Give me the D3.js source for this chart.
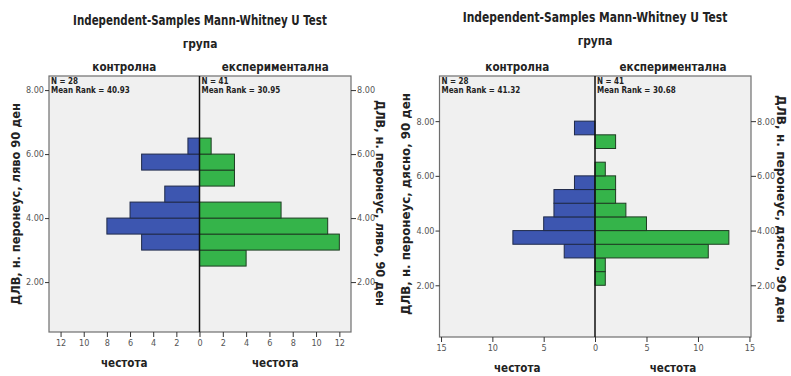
<!DOCTYPE html>
<html lang="bg">
<head>
<meta charset="UTF-8">
<title>Mann-Whitney U Test</title>
<script src="https://d3js.org/d3.v7.min.js"></script>
<style>
    body { margin: 0; background: #fff; }
    text { font-family: "DejaVu Sans", "Open Sans", sans-serif; }
    .title { font-size: 13.5px; font-weight: bold; fill: #222; }
    .grp { font-size: 13px; font-weight: bold; fill: #222; }
    .info { font-size: 9px; font-weight: bold; fill: #222; }
    .tick { font-size: 9px; fill: #555; }
    .axlab { font-size: 13px; font-weight: bold; fill: #222; }
    .ylab { font-size: 12.5px; font-weight: bold; fill: #222; }
</style>
</head>
<body>
<svg id="main" width="791" height="376"></svg>
<script>
    let svg = d3.select('svg#main');

    let groupNames = ['контролна', 'експериментална'];
    let chartTitle = 'Independent-Samples Mann-Whitney U Test';
    let groupVar = 'група';
    let freqLabel = 'честота';
    let yTicks = [2, 4, 6, 8];

    // ляво, 90 ден
    let binsLeft = [2.5, 3.0, 3.5, 4.0, 4.5, 5.0, 5.5, 6.0];
    let controlLeft = [0, 5, 8, 6, 3, 0, 5, 1];
    let experLeft = [4, 12, 11, 7, 0, 3, 3, 1];
    let nLeft = [28, 41];
    let rankLeft = ['40.93', '30.95'];
    let xTicksLeft = [0, 2, 4, 6, 8, 10, 12];

    // дясно, 90 ден
    let binsRight = [2.0, 2.5, 3.0, 3.5, 4.0, 4.5, 5.0, 5.5, 6.0, 6.5, 7.0, 7.5];
    let controlRight = [0, 0, 3, 8, 5, 4, 4, 2, 0, 0, 0, 2];
    let experRight = [1, 1, 11, 13, 5, 3, 2, 2, 1, 0, 2, 0];
    let nRight = [28, 41];
    let rankRight = ['41.32', '30.68'];
    let xTicksRight = [0, 5, 10, 15];

    let binWidth = 0.5;
    let blue = '#3d56b0', green = '#35b44a';

    // no condensed font installed, so squeeze the text a bit
    function condense(sel, f) {
        sel.each(function () {
            let w = this.getComputedTextLength();
            d3.select(this).attr('textLength', w * f).attr('lengthAdjust', 'spacingAndGlyphs');
        });
    }
    function fitTo(sel, w) {
        sel.attr('textLength', w).attr('lengthAdjust', 'spacingAndGlyphs');
    }

    function drawPanel(p) {
        let g = svg.append('g');
        let y = d3.scaleLinear().domain(p.yDomain).range([p.bottom, p.top]);
        let xc = d3.scaleLinear().domain([0, p.xMax]).range([p.cx, p.left]);
        let xe = d3.scaleLinear().domain([0, p.xMax]).range([p.cx, p.right]);

        let t = g.append('text').attr('class', 'title').attr('text-anchor', 'middle').text(chartTitle);
        let sx = p.titleW / t.node().getComputedTextLength();
        t.attr('transform', `translate(${p.titleX},${p.titleY}) scale(${sx},1)`);
        g.append('text').attr('class', 'grp').attr('x', p.titleX).attr('y', p.titleY + 23)
            .attr('text-anchor', 'middle').text(groupVar).call(condense, 0.82);
        g.append('text').attr('class', 'grp').attr('x', (p.left + p.cx) / 2).attr('y', p.top - 5)
            .attr('text-anchor', 'middle').text(groupNames[0]).call(condense, 0.8);
        g.append('text').attr('class', 'grp').attr('x', (p.cx + p.right) / 2).attr('y', p.top - 5)
            .attr('text-anchor', 'middle').text(groupNames[1]).call(condense, 0.8);

        g.append('rect').attr('x', p.left).attr('y', p.top)
            .attr('width', p.right - p.left).attr('height', p.bottom - p.top)
            .attr('fill', '#f0f0f0').attr('stroke', '#6e6e6e').attr('stroke-width', 1.2);

        let rows = p.bins.map((b, i) => ({b: b, c: p.control[i], e: p.exper[i]}));
        g.selectAll('rect.c').data(rows.filter(d => d.c > 0)).enter().append('rect')
            .attr('class', 'c')
            .attr('x', d => xc(d.c)).attr('width', d => xc(0) - xc(d.c))
            .attr('y', d => y(d.b + binWidth)).attr('height', d => y(d.b) - y(d.b + binWidth))
            .attr('fill', blue).attr('stroke', '#1f2a4a').attr('stroke-width', 1);
        g.selectAll('rect.e').data(rows.filter(d => d.e > 0)).enter().append('rect')
            .attr('class', 'e')
            .attr('x', xe(0)).attr('width', d => xe(d.e) - xe(0))
            .attr('y', d => y(d.b + binWidth)).attr('height', d => y(d.b) - y(d.b + binWidth))
            .attr('fill', green).attr('stroke', '#1e3d22').attr('stroke-width', 1);

        g.append('line').attr('x1', p.cx).attr('x2', p.cx).attr('y1', p.top).attr('y2', p.bottom)
            .attr('stroke', '#111').attr('stroke-width', 1.5);

        let info = [
            [p.left + 2, p.top + 8, 'N = ' + p.n[0]],
            [p.left + 2, p.top + 17, 'Mean Rank = ' + p.rank[0]],
            [p.cx + 2, p.top + 8, 'N = ' + p.n[1]],
            [p.cx + 2, p.top + 17, 'Mean Rank = ' + p.rank[1]]
        ];
        g.selectAll('text.info').data(info).enter().append('text').attr('class', 'info')
            .attr('x', d => d[0]).attr('y', d => d[1]).text(d => d[2]).call(condense, 0.8);

        let fmt = d3.format('.2f');
        g.append('g').attr('transform', `translate(${p.left},0)`)
            .call(d3.axisLeft(y).tickValues(yTicks).tickFormat(fmt).tickSize(4).tickPadding(1))
            .call(a => a.select('.domain').remove());
        g.append('g').attr('transform', `translate(${p.right},0)`)
            .call(d3.axisRight(y).tickValues(yTicks).tickFormat(fmt).tickSize(5).tickPadding(1))
            .call(a => a.select('.domain').remove());
        g.append('g').attr('transform', `translate(0,${p.bottom})`)
            .call(d3.axisBottom(xc).tickValues(p.xTicks).tickSize(5).tickPadding(3))
            .call(a => a.select('.domain').remove());
        g.append('g').attr('transform', `translate(0,${p.bottom})`)
            .call(d3.axisBottom(xe).tickValues(p.xTicks.slice(1)).tickSize(5).tickPadding(3))
            .call(a => a.select('.domain').remove());
        g.selectAll('.tick text').attr('class', 'tick').attr('font-family', null).attr('font-size', null)
            .call(condense, 0.9);
        g.selectAll('.tick line').attr('stroke', '#333');

        g.append('text').attr('class', 'axlab').attr('x', (p.left + p.cx) / 2).attr('y', p.freqY)
            .attr('text-anchor', 'middle').text(freqLabel).call(condense, 0.8);
        g.append('text').attr('class', 'axlab').attr('x', (p.cx + p.right) / 2).attr('y', p.freqY)
            .attr('text-anchor', 'middle').text(freqLabel).call(condense, 0.8);

        g.append('text').attr('class', 'ylab').attr('text-anchor', 'middle')
            .attr('transform', `translate(${p.labL},${p.labMidL}) rotate(-90)`).text(p.yLabelL)
            .call(fitTo, p.labWL);
        g.append('text').attr('class', 'ylab').attr('text-anchor', 'middle')
            .attr('transform', `translate(${p.labR},${p.labMidR}) rotate(90)`).text(p.yLabelR)
            .call(fitTo, p.labWR);
    }

    drawPanel({
        bins: binsLeft, control: controlLeft, exper: experLeft, n: nLeft, rank: rankLeft, xTicks: xTicksLeft,
        left: 49, right: 351, cx: 199.5, top: 76, bottom: 332, xMax: 13,
        yDomain: [0.44, 8.44], titleX: 200, titleY: 25, titleW: 254, freqY: 367,
        labL: 20, labR: 376, labMidL: 204, labMidR: 203, labWL: 202, labWR: 206,
        yLabelL: 'ДЛВ, н. перонеус, ляво 90 ден', yLabelR: 'ДЛВ, н. перонеус, ляво, 90 ден'
    });
    drawPanel({
        bins: binsRight, control: controlRight, exper: experRight, n: nRight, rank: rankRight, xTicks: xTicksRight,
        left: 439.5, right: 751, cx: 595, top: 76, bottom: 337, xMax: 15.15,
        yDomain: [0.11, 9.65], titleX: 595, titleY: 22, titleW: 265, freqY: 372,
        labL: 410, labR: 777, labMidL: 204, labMidR: 209, labWL: 222, labWR: 228,
        yLabelL: 'ДЛВ, н. перонеус, дясно, 90 ден', yLabelR: 'ДЛВ, н. перонеус, дясно, 90 ден'
    });
</script>
</body>
</html>
